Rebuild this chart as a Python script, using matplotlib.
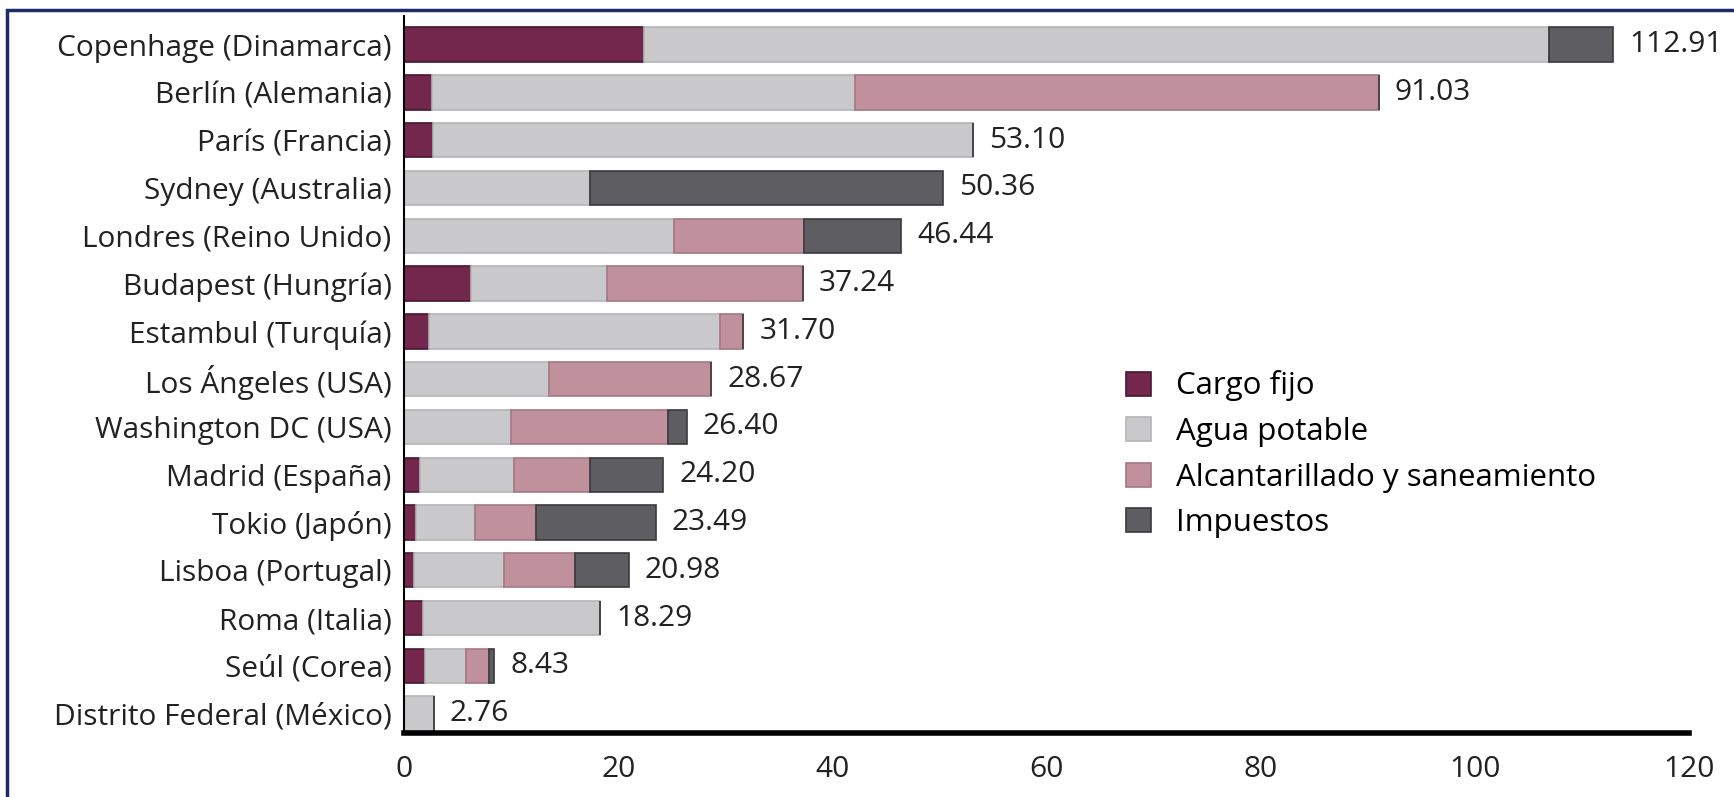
import matplotlib.pyplot as plt
import matplotlib.font_manager as fm
import numpy as np
from matplotlib.patches import Rectangle

# city labels, top to bottom
ciudades = ['Copenhage (Dinamarca)', 'Berlín (Alemania)', 'París (Francia)',
            'Sydney (Australia)', 'Londres (Reino Unido)', 'Budapest (Hungría)',
            'Estambul (Turquía)', 'Los Ángeles (USA)', 'Washington DC (USA)',
            'Madrid (España)', 'Tokio (Japón)', 'Lisboa (Portugal)',
            'Roma (Italia)', 'Seúl (Corea)', 'Distrito Federal (México)']

# components
cargo_fijo = [22.4, 2.6, 2.7, 0.0, 0.0, 6.3, 2.3, 0.0, 0.0, 1.5, 1.1, 0.9, 1.8, 2.0, 0.0]
agua_potable = [84.5, 39.5, 50.4, 17.4, 25.2, 12.7, 27.2, 13.5, 10.0, 8.8, 5.5, 8.4, 16.49, 3.8, 2.76]
alcantarillado = [0.0, 48.93, 0.0, 0.0, 12.2, 18.24, 2.2, 15.17, 14.7, 7.1, 5.7, 6.7, 0.0, 2.1, 0.0]
impuestos = [6.01, 0.0, 0.0, 32.96, 9.04, 0.0, 0.0, 0.0, 1.7, 6.8, 11.19, 4.98, 0.0, 0.53, 0.0]
totales = [112.91, 91.03, 53.10, 50.36, 46.44, 37.24, 31.70, 28.67, 26.40,
           24.20, 23.49, 20.98, 18.29, 8.43, 2.76]

series = ['Cargo fijo', 'Agua potable', 'Alcantarillado y saneamiento', 'Impuestos']
colores = ['#74274d', '#c9c8ca', '#c1909d', '#5e5d61']
bordes = ['#4a1530', '#b5b4b6', '#a47783', '#3a393c']

names = [f.name for f in fm.fontManager.ttflist]
fam = 'Liberation Sans Narrow' if 'Liberation Sans Narrow' in names else 'Open Sans'
plt.rcParams['font.family'] = [fam, 'DejaVu Sans']
fs = 21.5

fig = plt.figure(figsize=(17.34, 7.97), dpi=100)
ax = fig.add_axes([0.233, 0.080, 0.741, 0.900])

y = np.arange(len(ciudades))
left = np.zeros(len(ciudades))
for vals, nombre, col, ed in zip([cargo_fijo, agua_potable, alcantarillado, impuestos],
                                 series, colores, bordes):
    vals = np.array(vals)
    ax.barh(y, vals, left=left, height=0.72, color=col, edgecolor=ed,
            linewidth=1.2, label=nombre)
    left += vals

for yi, t in zip(y, totales):
    ax.text(t + 1.5, yi, f'{t:.2f}', va='center', ha='left', fontsize=fs, color='#222222')

ax.set_yticks(y)
ax.set_yticklabels(ciudades, fontsize=fs, color='#222222')
ax.set_ylim(14.41, -0.6)
ax.set_xlim(0, 120)
ax.set_xticks([0, 20, 40, 60, 80, 100, 120])
ax.tick_params(axis='x', labelsize=fs, length=0, pad=16, labelcolor='#222222')
ax.tick_params(axis='y', length=0, pad=9)

for s in ['top', 'right']:
    ax.spines[s].set_visible(False)
ax.spines['bottom'].set_linewidth(4)
ax.spines['left'].set_linewidth(1.5)

leg = ax.legend(loc='upper left', bbox_to_anchor=(0.54, 0.545), frameon=False,
                fontsize=fs + 1, handlelength=0.8, handleheight=0.8, handletextpad=0.8,
                labelspacing=0.5)

# dark blue frame around the figure
fig.patches.append(Rectangle((0.004, -0.01), 1.02, 0.997, transform=fig.transFigure,
                             fill=False, edgecolor='#1f2a6b', linewidth=2.5))

fig.savefig('out.png', dpi=100)
